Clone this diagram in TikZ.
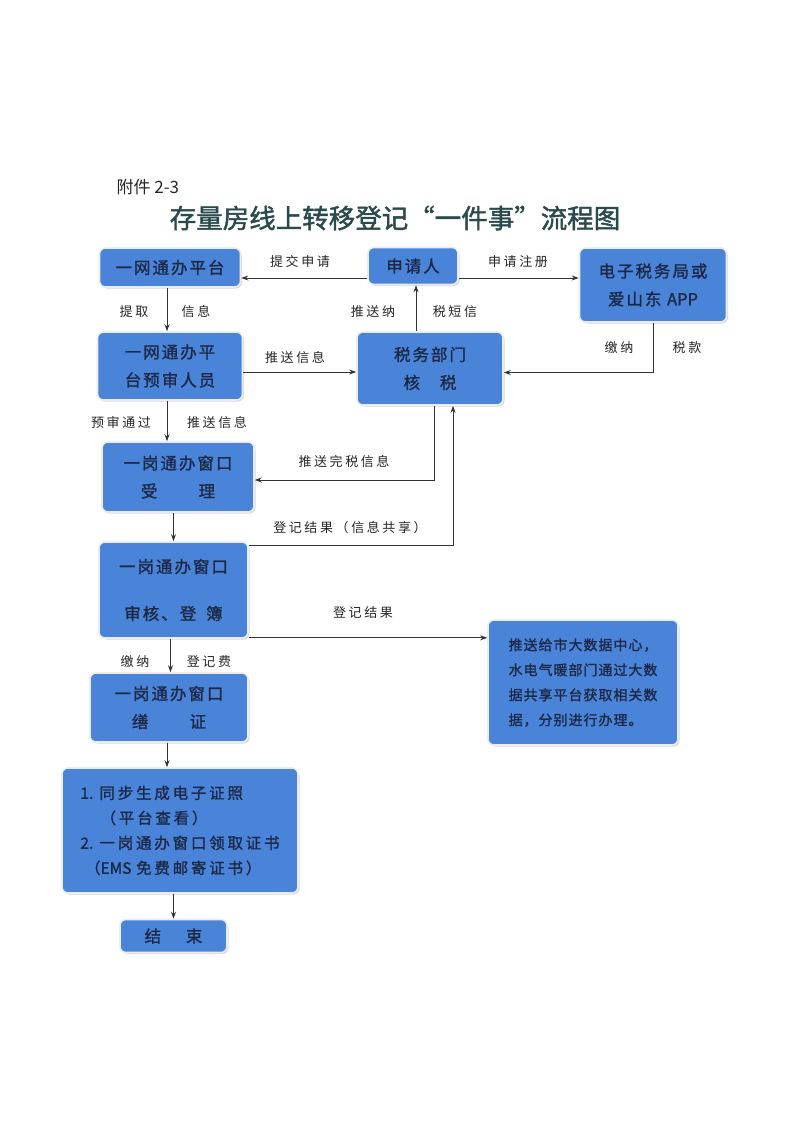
\documentclass[tikz,border=0pt]{standalone}
\usepackage{fontspec}
\newfontfamily\cjk{Noto Sans CJK SC}
\newfontfamily\cjkl[LetterSpace=20]{Noto Sans CJK SC}
\newfontfamily\cjkb[FakeBold=1.3,LetterSpace=12]{Noto Sans CJK SC}
\newfontfamily\cjkbn[FakeBold=1.3]{Noto Sans CJK SC}
\newfontfamily\cjkbs[FakeBold=1.2,LetterSpace=7]{Noto Sans CJK SC}
\newfontfamily\cjkbr[FakeBold=1.3,LetterSpace=18]{Noto Sans CJK SC}
\newfontfamily\cjkt[FakeBold=1.6]{Noto Sans CJK SC}
\usetikzlibrary{arrows.meta,shadows}
\definecolor{boxblue}{HTML}{4A84D8}
\definecolor{boxtext}{HTML}{1C2846}
\definecolor{titlecol}{HTML}{2B4A4C}
\definecolor{linecol}{HTML}{333333}
\tikzset{
  flowbox/.style={draw=white!85!gray, line width=1.6pt, fill=boxblue, rounded corners=6pt,
    drop shadow={shadow xshift=1.5pt, shadow yshift=-1.5pt, fill=gray!60},
    text=boxtext, font=\cjkb\fontsize{16.5}{28}\selectfont, align=center, inner sep=2pt},
  lbl/.style={font=\cjkl\fontsize{13}{14}\selectfont, text=black!85, inner sep=1pt},
  arr/.style={draw=linecol, line width=0.9pt, -{Stealth[length=7pt,width=5pt]}}
}
\begin{document}
\begin{tikzpicture}[x=1pt,y=-1pt]
\fill[white] (0,0) rectangle (795,1125);
\useasboundingbox (0,0) rectangle (795,1125);
% header
\node[font=\cjk\fontsize{17}{20}\selectfont, text=black!85, anchor=west] (att) at (113,187) {附件 2-3};
\node[font=\cjkt\fontsize{26.5}{30}\selectfont, text=titlecol] (title) at (395,218) {存量房线上转移登记“一件事”流程图};
% boxes
\node[flowbox, minimum width=141pt, minimum height=39pt] (p1) at (170,267.5) {一网通办平台};
\node[flowbox, minimum width=90pt, minimum height=37pt] (app) at (413,266) {申请人};
\node[flowbox, minimum width=147pt, minimum height=74pt] (etax) at (653,285) {电子税务局或\\爱山东 {\cjkbn APP}};
\node[flowbox, minimum width=145pt, minimum height=68pt] (rev) at (170,366) {一网通办平\\台预审人员};
\node[flowbox, minimum width=146pt, minimum height=73pt] (tax) at (430,368.5) {税务部门\\核\hspace{1.2em}税};
\node[flowbox, minimum width=152pt, minimum height=70pt] (acc) at (178,477) {一岗通办窗口\\受\hspace{2.5em}理};
\node[flowbox, minimum width=149pt, minimum height=96pt] (reg) at (173.5,590) {一岗通办窗口\\[19pt]审核、登\hspace{0.6em}簿};
\node[flowbox, minimum width=190pt, minimum height=125pt, align=left,
      font=\cjkbs\fontsize{14}{25}\selectfont] (big) at (583,682.5) {推送给市大数据中心，\\水电气暖部门通过大数\\据共享平台获取相关数\\据，分别进行办理。};
\node[flowbox, minimum width=158pt, minimum height=69pt] (cert) at (169,707.5) {一岗通办窗口\\缮\hspace{2.5em}证};
\node[flowbox, minimum width=236pt, minimum height=125pt, align=left,
      font=\cjkbr\fontsize{15.5}{25}\selectfont] (res) at (180,830.5) {{\cjkbn 1.}\hspace{0.4em}同步生成电子证照\\\hspace{1.3em}（平台查看）\\{\cjkbn 2.}\hspace{0.4em}一岗通办窗口领取证书\\\hspace{0.3em}（{\cjkbn EMS}\hspace{0.3em}免费邮寄证书）};
\node[flowbox, minimum width=107pt, minimum height=33pt] (fin) at (173.5,936) {结\hspace{1.5em}束};
% connectors
\draw[arr] ([yshift=-12pt]app.west) -- ([yshift=-12pt]app.west -| p1.east);
\node[lbl] (l1) at (300,262) {提交申请};
\draw[arr] ([yshift=-12pt]app.east) -- ([yshift=-12pt]app.east -| etax.west);
\node[lbl] (l2) at (518,262) {申请注册};
\draw[arr] ([xshift=-3pt]p1.south) -- ([xshift=-3pt]p1.south |- rev.north);
\node[lbl] (l3) at (134,312) {提取};
\node[lbl] (l4) at (196,312) {信息};
\draw[arr] ([xshift=3pt]app.south |- tax.north) -- ([xshift=3pt]app.south);
\node[lbl] (l5) at (373,312) {推送纳};
\node[lbl] (l6) at (455,312) {税短信};
\draw[arr] ([yshift=-6pt]rev.east) -- ([yshift=-6pt]rev.east -| tax.west);
\node[lbl] (l7) at (295,358) {推送信息};
\draw[arr] (etax.south) |- ([yshift=-4pt]tax.east);
\node[lbl] (l8) at (619,348) {缴纳};
\node[lbl] (l9) at (687,348) {税款};
\draw[arr] ([xshift=-3pt]rev.south) -- ([xshift=-3pt]rev.south |- acc.north);
\node[lbl] (l10) at (121,423) {预审通过};
\node[lbl] (l11) at (217,423) {推送信息};
\draw[arr] ([xshift=4pt]tax.south) |- ([yshift=-3pt]acc.east);
\node[lbl] (l12) at (344,462) {推送完税信息};
\draw[arr] (reg.north |- acc.south) -- (reg.north);
\coordinate (rt) at ([yshift=-4pt]reg.north east);
\draw[arr] (rt) -| ([xshift=23pt]tax.south);
\node[lbl] (l13) at (350,528) {登记结果（信息共享）};
\draw[arr] ([yshift=1pt]reg.south east) -- ([yshift=1pt]reg.south east -| big.west);
\node[lbl] (l14) at (363,613) {登记结果};
\draw[arr] ([xshift=-3pt]reg.south) -- ([xshift=-3pt]reg.south |- cert.north);
\node[lbl] (l15) at (135,662) {缴纳};
\node[lbl] (l16) at (209,662) {登记费};
\draw[arr] ([xshift=-2pt]cert.south) -- ([xshift=-2pt]cert.south |- res.north);
\draw[arr] (fin.north |- res.south) -- (fin.north);
\end{tikzpicture}
\end{document}
